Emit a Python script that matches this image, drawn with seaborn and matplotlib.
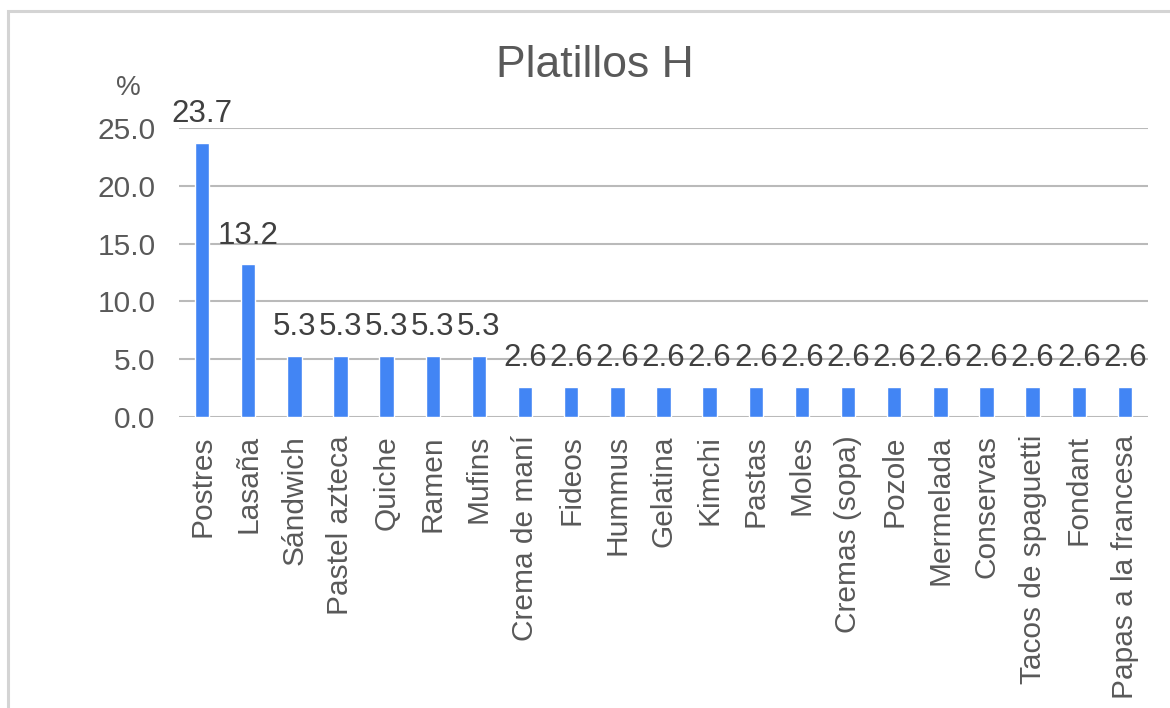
import matplotlib
matplotlib.use("Agg")
import matplotlib.pyplot as plt
from matplotlib.patches import Rectangle
import seaborn as sns
import pandas as pd

categories = [
    "Postres", "Lasaña", "Sándwich", "Pastel azteca", "Quiche", "Ramen",
    "Mufins", "Crema de maní", "Fideos", "Hummus", "Gelatina", "Kimchi",
    "Pastas", "Moles", "Cremas (sopa)", "Pozole", "Mermelada", "Conservas",
    "Tacos de spaguetti", "Fondant", "Papas a la francesa",
]
values = [23.7, 13.2, 5.3, 5.3, 5.3, 5.3, 5.3,
          2.6, 2.6, 2.6, 2.6, 2.6, 2.6, 2.6, 2.6, 2.6, 2.6, 2.6, 2.6, 2.6, 2.6]
y_ticks = [0.0, 5.0, 10.0, 15.0, 20.0, 25.0]
title = "Platillos H"
unit = "%"

df = pd.DataFrame({"platillo": categories, "pct": values})

sns.set_style("white")
plt.rcParams["font.family"] = ["Liberation Sans", "DejaVu Sans"]

W, H = 1170, 708
fig = plt.figure(figsize=(W / 100, H / 100), dpi=100)
fig.patch.set_facecolor("white")

# light frame around the chart area
fig.patches.append(Rectangle((8 / W, -0.05), 1.2, (H - 11) / H + 0.05,
                             transform=fig.transFigure, fill=False,
                             edgecolor="#D4D4D4", linewidth=2.2))

ax = fig.add_axes([179 / W, (H - 417) / H, (1148 - 179) / W, (417 - 128) / H])

text_col = "#595959"
sns.barplot(data=df, x="platillo", y="pct", color="#4285F4", width=0.31,
            saturation=1, ax=ax, zorder=3)

ax.set_ylim(0, 25)
ax.set_xlim(-0.5, len(categories) - 0.5)
ax.set_yticks(y_ticks)
ax.set_yticklabels([f"{t:.1f}" for t in y_ticks])
ax.set_xlabel("")
ax.set_ylabel("")
ax.yaxis.grid(True, color="#BABABA", linewidth=1.5, zorder=0)
ax.set_axisbelow(True)
for s in ax.spines.values():
    s.set_visible(False)
ax.tick_params(axis="y", length=0, pad=17, labelsize=21.5, labelcolor=text_col)
ax.tick_params(axis="x", length=0, pad=13, labelsize=21.5, labelcolor=text_col,
               labelrotation=90)
for lbl in ax.get_xticklabels():
    lbl.set_va("top")
    lbl.set_ha("center")

# value labels above each bar
for i, v in enumerate(values):
    ax.annotate(f"{v:.1f}", xy=(i, v), xytext=(0, 10), textcoords="offset points",
                ha="center", va="bottom", fontsize=22.5, color="#404040")

fig.text(595 / W, 1 - 77 / H, title, ha="center", va="baseline",
         fontsize=32, color=text_col)
fig.text(128 / W, 1 - 88 / H, unit, ha="center", va="center",
         fontsize=20, color=text_col)

fig.savefig("out.png", dpi=100)
